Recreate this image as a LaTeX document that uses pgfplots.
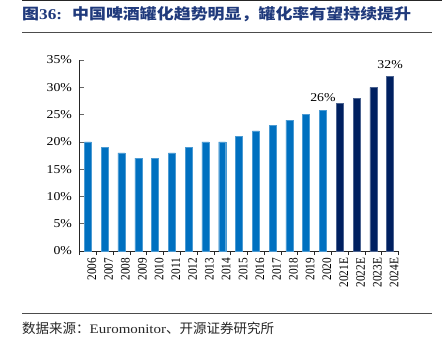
\documentclass[border=0pt]{standalone}
\usepackage{pgfplots}
\pgfplotsset{compat=1.18}
\usepackage{fontspec}
\setmainfont{Liberation Serif}[FakeStretch=1.15]
\newfontfamily\xlabfont{Liberation Serif}[FakeStretch=0.87]
\newfontfamily\cjk{Noto Sans CJK SC}
\newfontfamily\cjkt{Noto Sans CJK SC}[FakeStretch=1.13]
\definecolor{lblue}{HTML}{0070C0}
\definecolor{dblue}{HTML}{002060}
\definecolor{titleblue}{HTML}{203A7C}
\begin{document}
\begin{tikzpicture}
\useasboundingbox (0,0) rectangle (442bp,-341bp);
\draw[line width=1.2pt, black!85] (22bp,-0.6bp) -- (442bp,-0.6bp);
\node[anchor=west, inner sep=0pt, text=titleblue, font=\fontsize{15bp}{18bp}\selectfont] at (22bp,-14.5bp)
  {{\cjkt\bfseries 图}{\bfseries 36:}\hspace{10bp}{\cjkt\bfseries 中国啤酒罐化趋势明显，罐化率有望持续提升}};
\draw[line width=0.8pt, black!70] (22bp,-32bp) -- (432bp,-32bp);
\draw[line width=0.8pt, black!70] (22bp,-313bp) -- (432bp,-313bp);
\node[anchor=west, inner sep=0pt, text=black!85, font=\fontsize{13.5bp}{15bp}\selectfont] at (22bp,-328bp)
  {{\cjk 数据来源：}\fontsize{13bp}{15bp}\selectfont Euromonitor{\fontsize{13.5bp}{15bp}\selectfont\cjk 、开源证券研究所}};
\begin{axis}[
  at={(79.5bp,-251bp)}, anchor=south west,
  scale only axis, width=319bp, height=191bp,
  xmin=-0.5, xmax=18.5, ymin=0, ymax=35,
  axis x line*=bottom, axis y line*=left,
  axis line style={black!85, line width=0.6pt},
  ytick={0,5,...,35},
  yticklabel={\pgfmathprintnumber{\tick}\%},
  /pgf/number format/assume math mode=true,
  xtick={0,...,18},
  xticklabels={2006,2007,2008,2009,2010,2011,2012,2013,2014,2015,2016,2017,2018,2019,2020,2021E,2022E,2023E,2024E},
  x tick label style={rotate=90, anchor=east, font=\xlabfont\fontsize{13bp}{15bp}\selectfont, xshift=0.5bp, yshift=-4bp},
  major x tick style={draw=none},
  minor xtick={-0.5,0.5,...,18.5},
  minor x tick style={black!85, line width=0.6pt},
  minor tick length=4bp,
  y tick label style={font=\fontsize{12bp}{14bp}\selectfont, xshift=-4bp},
  y tick style={black!60, line width=0.6pt},
  major tick length=4bp,
  tick align=inside,
  xtick pos=bottom, ytick pos=left,
  ybar, bar width=7bp, bar shift=0pt,
  clip=false,
]
\addplot[fill=lblue, draw=lblue!70!white, line width=0.4pt] coordinates {
(0,20) (1,19) (2,18) (3,17) (4,17) (5,18) (6,19) (7,20) (8,20) (9,21) (10,22) (11,23) (12,24) (13,25) (14,25.8)};
\addplot[fill=dblue, draw=dblue!70!white, line width=0.4pt] coordinates {
(15,27) (16,28) (17,30) (18,32)};
\node[anchor=south, font=\fontsize{12bp}{14bp}\selectfont, inner sep=2bp, yshift=6bp] at (axis cs:14,25.8) {26\%};
\node[anchor=south, font=\fontsize{12bp}{14bp}\selectfont, inner sep=2bp, yshift=6bp] at (axis cs:18,32) {32\%};
\end{axis}
\end{tikzpicture}
\end{document}
